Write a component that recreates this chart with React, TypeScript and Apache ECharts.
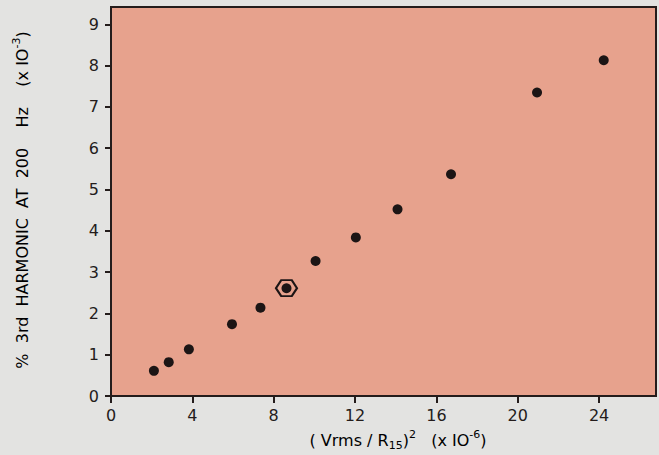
import React, { useEffect, useRef } from "react";
import * as echarts from "echarts";

const xTicks = [0, 4, 8, 12, 16, 20, 24];
const yTicks = [0, 1, 2, 3, 4, 5, 6, 7, 8, 9];
const xValues = [2.11, 2.84, 3.83, 5.95, 7.35, 8.63, 10.06, 12.04, 14.09, 16.72, 20.95, 24.23];
const yValues = [0.61, 0.82, 1.13, 1.74, 2.14, 2.61, 3.27, 3.84, 4.52, 5.37, 7.35, 8.13];
const highlighted = [[8.63, 2.61]];

const INK = "#241c1b";
const FONT = "DejaVu Sans";

export default function App() {
  const ref = useRef<HTMLDivElement>(null);
  useEffect(() => {
    if (!ref.current) return;
    const chart = echarts.init(ref.current, undefined, { renderer: "svg" });
    const points = xValues.map((x, i) => [x, yValues[i]]);
    const rich = {
      a: { fontSize: 16, fontFamily: FONT, color: INK, lineHeight: 22, verticalAlign: "middle" },
      sup: { fontSize: 11, fontFamily: FONT, color: INK, lineHeight: 22, verticalAlign: "top" },
      sub: { fontSize: 11, fontFamily: FONT, color: INK, lineHeight: 22, verticalAlign: "bottom" },
    };
    chart.setOption({
      animation: false,
      backgroundColor: "#e3e3e1",
      grid: {
        left: 111,
        top: 7,
        right: 3,
        bottom: 59,
        show: true,
        backgroundColor: "#e7a28d",
        borderColor: INK,
        borderWidth: 2,
      },
      xAxis: {
        type: "value",
        min: 0,
        max: 26.8,
        interval: 4,
        axisLine: { show: true, lineStyle: { color: INK, width: 2 } },
        axisTick: { show: true, length: 7, lineStyle: { color: INK, width: 2 }, customValues: xTicks },
        axisLabel: { color: INK, fontSize: 16, fontFamily: FONT, margin: 11, customValues: xTicks },
        splitLine: { show: false },
      },
      yAxis: {
        type: "value",
        min: 0,
        max: 9.42,
        interval: 1,
        axisLine: { show: true, lineStyle: { color: INK, width: 2 } },
        axisTick: { show: true, length: 6, lineStyle: { color: INK, width: 2 }, customValues: yTicks },
        axisLabel: { color: INK, fontSize: 16, fontFamily: FONT, margin: 12, customValues: yTicks },
        splitLine: { show: false },
      },
      graphic: [
        {
          type: "text",
          x: 22,
          y: 200,
          rotation: Math.PI / 2,
          style: {
            text: "{a|%  3rd  HARMONIC  AT  200    Hz    (x IO}{sup|-3}{a|)}",
            rich,
            align: "center",
            verticalAlign: "middle",
          },
        },
        {
          type: "text",
          x: 398,
          y: 440,
          style: {
            text: "{a|( Vrms / R}{sub|15}{a|)}{sup|2}{a|   (x IO}{sup|-6}{a|)}",
            rich,
            align: "center",
            verticalAlign: "middle",
          },
        },
      ],
      series: [
        {
          type: "scatter",
          data: points,
          symbol: "circle",
          symbolSize: 10,
          itemStyle: { color: "#1c1515", opacity: 1 },
          z: 3,
        },
        {
          type: "scatter",
          data: highlighted,
          symbol: "path://M0,5 L3,0 L9,0 L12,5 L9,10 L3,10 Z",
          symbolSize: [21, 16],
          itemStyle: { color: "rgba(0,0,0,0)", borderColor: "#1c1515", borderWidth: 2, opacity: 1 },
          z: 2,
        },
      ],
    });
    return () => chart.dispose();
  }, []);
  return <div ref={ref} style={{ position: "fixed", left: 0, top: 0, width: 659, height: 455 }} />;
}
